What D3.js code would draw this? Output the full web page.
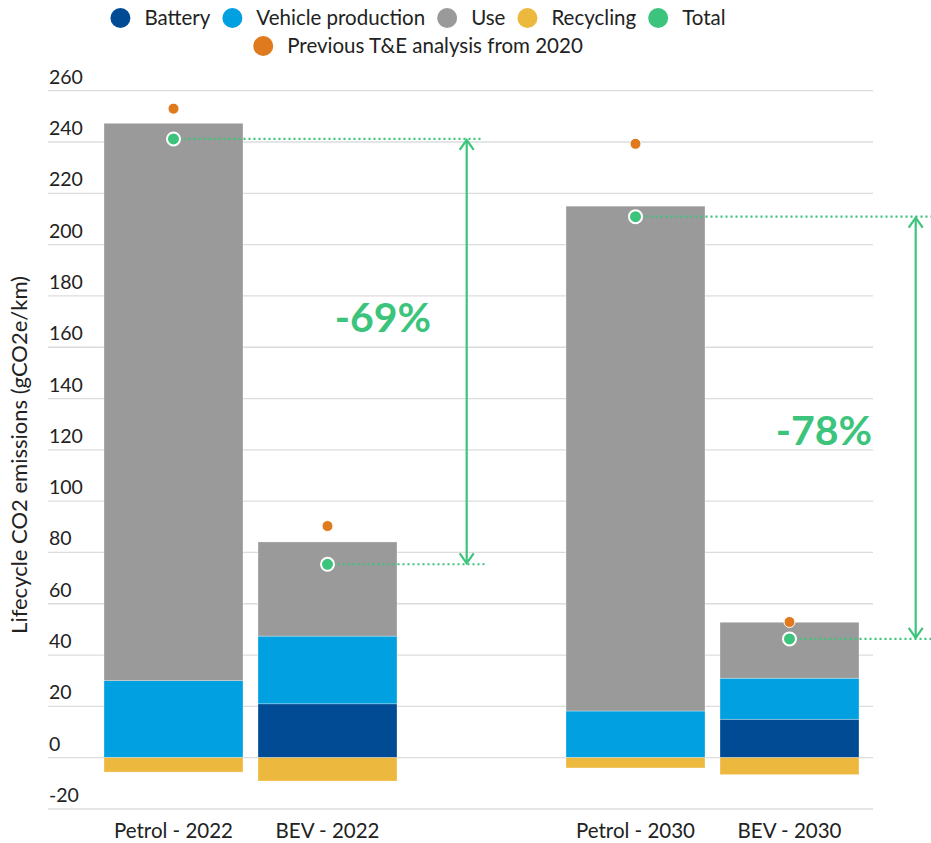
<!DOCTYPE html>
<html>
<head>
<meta charset="utf-8">
<script src="https://cdn.jsdelivr.net/npm/d3@7"></script>
<style>
  body { margin: 0; background: #fff; }
  svg { display: block; font-family: "Lato", "Noto Sans", sans-serif; }
</style>
</head>
<body>
<svg id="chart" width="931" height="843"></svg>
<script>
// ---- data ----
const categories = ["Petrol - 2022", "BEV - 2022", "", "Petrol - 2030", "BEV - 2030"];
const barCategories = ["Petrol - 2022", "BEV - 2022", "Petrol - 2030", "BEV - 2030"];
const battery = [0, 21, 0, 15];
const vehicleProduction = [30, 26.4, 18.2, 16];
const use = [217.3, 36.7, 196.8, 21.8];
const recycling = [-5.6, -9.1, -4, -6.6];
const total = [241.2, 75.4, 210.9, 46.3];
const previous2020 = [253, 90.3, 239.3, 52.9];
const yTicks = [-20, 0, 20, 40, 60, 80, 100, 120, 140, 160, 180, 200, 220, 240, 260];
const seriesNames = ["Battery", "Vehicle production", "Use", "Recycling"];
const legendRow1 = ["Battery", "Vehicle production", "Use", "Recycling", "Total"];
const legendRow2 = ["Previous T&E analysis from 2020"];
const comparisons = [[0, 1], [2, 3]];

const colors = {
  "Battery": "#004b93",
  "Vehicle production": "#00a0e1",
  "Use": "#9a9a9a",
  "Recycling": "#edb83e",
  "Total": "#3cc47c",
  "Previous T&E analysis from 2020": "#e07a1f"
};

const svg = d3.select("#chart");
const y = d3.scaleLinear().domain([-20, 260]).range([809, 90.7]);
const x = d3.scaleBand().domain(categories).range([96.5, 866.5]).paddingInner(0.0974).paddingOuter(0.0487);
const gridX0 = 48, gridX1 = 873;

// gridlines
const grid = svg.append("g");
grid.selectAll("line").data(yTicks).join("line")
  .attr("x1", gridX0).attr("x2", gridX1)
  .attr("y1", d => y(d)).attr("y2", d => y(d))
  .attr("stroke", "#dcdcdc").attr("stroke-width", 1.3);
grid.selectAll("text").data(yTicks).join("text")
  .attr("x", gridX0 + 1).attr("y", d => y(d) - 7)
  .attr("font-size", 19.5).attr("fill", "#222")
  .text(d => d);

// y title
svg.append("text")
  .attr("transform", `translate(27, ${y(118)}) rotate(-90)`)
  .attr("text-anchor", "middle")
  .attr("font-size", 22).attr("fill", "#222")
  .text("Lifecycle CO2 emissions (gCO2e/km)");

// stacked bars
const rows = barCategories.map((c, i) => ({
  cat: c,
  "Battery": battery[i],
  "Vehicle production": vehicleProduction[i],
  "Use": use[i],
  "Recycling": recycling[i]
}));
const stack = d3.stack().keys(seriesNames).offset(d3.stackOffsetDiverging);
const layers = stack(rows);
svg.append("g").selectAll("g").data(layers).join("g")
  .attr("fill", d => colors[d.key])
  .selectAll("rect").data(d => d).join("rect")
  .attr("x", d => x(d.data.cat))
  .attr("width", x.bandwidth())
  .attr("y", d => y(Math.max(d[0], d[1])))
  .attr("height", d => Math.abs(y(d[0]) - y(d[1])))
  .attr("stroke", "rgba(255,255,255,0.5)").attr("stroke-width", 0.6);

// x labels
svg.append("g").selectAll("text").data(barCategories).join("text")
  .attr("x", d => x(d) + x.bandwidth() / 2)
  .attr("y", 838)
  .attr("text-anchor", "middle")
  .attr("font-size", 20.5).attr("fill", "#222")
  .text(d => d);

// comparison annotations
const green = colors["Total"];
const ann = svg.append("g");
const arrowX = [466.7, 915.7];
const lineEnd = [[483, 485], [931, 931]];
const labelPos = [[383, 172], [824, 128]];
comparisons.forEach((pair, k) => {
  const [a, b] = pair;
  const cxA = x(barCategories[a]) + x.bandwidth() / 2;
  const cxB = x(barCategories[b]) + x.bandwidth() / 2;
  ann.append("line").attr("x1", cxA).attr("x2", lineEnd[k][0])
    .attr("y1", y(total[a])).attr("y2", y(total[a]))
    .attr("stroke", green).attr("stroke-width", 2.2).attr("stroke-dasharray", "2,3");
  ann.append("line").attr("x1", cxB).attr("x2", lineEnd[k][1])
    .attr("y1", y(total[b])).attr("y2", y(total[b]))
    .attr("stroke", green).attr("stroke-width", 2.2).attr("stroke-dasharray", "2,3");
  const ax = arrowX[k], ya = y(total[a]) + 1, yb = y(total[b]) - 1;
  ann.append("line").attr("x1", ax).attr("x2", ax).attr("y1", ya).attr("y2", yb)
    .attr("stroke", green).attr("stroke-width", 2.2);
  ann.append("path").attr("d", `M${ax - 7},${ya + 10} L${ax},${ya} L${ax + 7},${ya + 10}`)
    .attr("fill", "none").attr("stroke", green).attr("stroke-width", 2.2);
  ann.append("path").attr("d", `M${ax - 7},${yb - 10} L${ax},${yb} L${ax + 7},${yb - 10}`)
    .attr("fill", "none").attr("stroke", green).attr("stroke-width", 2.2);
  const pct = Math.round((total[b] / total[a] - 1) * 100);
  ann.append("text").attr("x", labelPos[k][0]).attr("y", y(labelPos[k][1]))
    .attr("text-anchor", "middle").attr("dominant-baseline", "central")
    .attr("font-size", 41).attr("font-weight", 700).attr("fill", green)
    .text(`${pct}%`);
});

// dots
const dots = svg.append("g");
dots.selectAll("circle.prev").data(barCategories).join("circle").attr("class", "prev")
  .attr("cx", d => x(d) + x.bandwidth() / 2)
  .attr("cy", (d, i) => y(previous2020[i]))
  .attr("r", 5.5).attr("fill", colors["Previous T&E analysis from 2020"])
  .attr("stroke", "#fff").attr("stroke-width", 1);
dots.selectAll("circle.tot").data(barCategories).join("circle").attr("class", "tot")
  .attr("cx", d => x(d) + x.bandwidth() / 2)
  .attr("cy", (d, i) => y(total[i]))
  .attr("r", 6.5).attr("fill", green)
  .attr("stroke", "#fff").attr("stroke-width", 2);

// legend
function legendRow(items, cy, centerX) {
  const g = svg.append("g");
  let cursor = 0;
  items.forEach(name => {
    const item = g.append("g");
    item.append("circle").attr("cx", 10).attr("cy", 0).attr("r", 10).attr("fill", colors[name]);
    const t = item.append("text").attr("x", 34).attr("y", 0).attr("dy", "0.35em")
      .attr("font-size", 20.5).attr("fill", "#222").text(name);
    const w = 34 + t.node().getComputedTextLength();
    item.attr("transform", `translate(${cursor},0)`);
    cursor += w + 12;
  });
  const totalW = cursor - 12;
  g.attr("transform", `translate(${centerX - totalW / 2},${cy})`);
}
legendRow(legendRow1, 18, 418);
legendRow(legendRow2, 46, 418);
</script>
</body>
</html>
